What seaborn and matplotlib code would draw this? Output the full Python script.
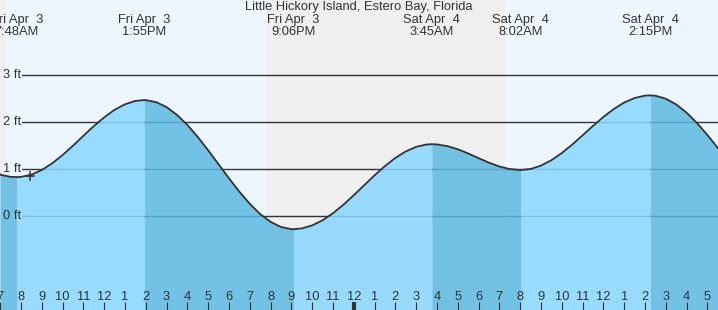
import numpy as np
import pandas as pd
import matplotlib
matplotlib.use("Agg")
import matplotlib.pyplot as plt
import matplotlib.transforms as mtransforms
import seaborn as sns

# ---- data (hours since Fri Apr 3 00:00, water level in ft) ----
hours = [6.99, 7.0, 7.5, 7.8, 8, 8.5, 9, 9.5, 10, 10.5, 11, 11.5, 12, 12.5, 13, 13.5, 13.92,
         14, 14.5, 15, 15.5, 16, 16.5, 17, 17.5, 18, 18.5, 19, 19.5, 20, 20.5, 21, 21.1,
         21.5, 22, 22.5, 23, 23.5, 24, 24.5, 25, 25.5, 26, 26.5, 27, 27.5, 27.75,
         28, 28.5, 29, 29.5, 30, 30.5, 31, 31.5, 32, 32.03,
         32.5, 33, 33.5, 34, 34.5, 35, 35.5, 36, 36.5, 37, 37.5, 38, 38.25,
         38.5, 39, 39.5, 40, 40.5, 41, 41.51]
heights = [0.89, 0.88, 0.835, 0.83, 0.834, 0.882, 0.981, 1.123, 1.299, 1.499, 1.709, 1.915,
           2.102, 2.262, 2.380, 2.451, 2.47,
           2.469, 2.426, 2.319, 2.154, 1.939, 1.684, 1.399, 1.101, 0.803, 0.518, 0.261, 0.041,
           -0.123, -0.233, -0.279, -0.28,
           -0.264, -0.199, -0.089, 0.061, 0.241, 0.444, 0.657, 0.868, 1.065, 1.238, 1.376,
           1.474, 1.524, 1.53,
           1.525, 1.489, 1.422, 1.333, 1.233, 1.136, 1.055, 1.001, 0.98, 0.98,
           1.002, 1.074, 1.189, 1.342, 1.522, 1.719, 1.919, 2.110, 2.279, 2.417, 2.513, 2.564,
           2.57,
           2.562, 2.499, 2.377, 2.201, 1.981, 1.726, 1.445]

event_hours = [7.8, 13.92, 21.1, 27.75, 32.03, 38.25]
event_days = ["Fri Apr  3", "Fri Apr  3", "Fri Apr  3", "Sat Apr  4", "Sat Apr  4", "Sat Apr  4"]
event_times = ["7:48AM", "1:55PM", "9:06PM", "3:45AM", "8:02AM", "2:15PM"]

# falling-tide intervals (darker fill) and rising-tide intervals (lighter fill)
falling = [(6.99, 7.8), (13.92, 21.1), (27.75, 32.03), (38.25, 41.51)]
rising = [(7.8, 13.92), (21.1, 27.75), (32.03, 38.25)]

night_spans = [(6.99, 7.28), (19.78, 31.27)]

level_ticks = [0, 1, 2, 3]
hour_ticks = list(range(7, 42))
hour_labels = [str((h - 1) % 12 + 1) for h in hour_ticks]

title = "Little Hickory Island, Estero Bay, Florida"
now_hour, now_level = [8.43], [0.86]

# ---- style ----
sns.set_style("white")
plt.rcParams["font.family"] = ["Liberation Sans", "DejaVu Sans"]
txt = "#333333"
fs = 9.3

df = pd.DataFrame({"hour": hours, "ft": heights})

fig = plt.figure(figsize=(7.18, 3.10), dpi=100)
ax = fig.add_axes([0, 0, 1, 1])
ax.set_facecolor("#eef7ff")
ax.set_xlim(6.99, 41.51)
ax.set_ylim(-2.0, 4.6)
ax.set_axisbelow(False)

for a, b in night_spans:
    ax.axvspan(a, b, color="#efefef", zorder=0, lw=0)

ytr = mtransforms.blended_transform_factory(ax.transAxes, ax.transData)
for lv in level_ticks:
    ax.axhline(lv, xmin=22 / 718, xmax=1, color=txt, lw=1.0, zorder=1)
    ax.text(3 / 718, lv, f"{lv} ft", transform=ytr, ha="left", va="center",
            fontsize=fs, color=txt, zorder=5)

t = np.array(hours)
v = np.array(heights)
for a, b in rising:
    m = (t >= a) & (t <= b)
    ax.fill_between(t[m], v[m], -2.0, color="#88d7ff", alpha=0.85, lw=0, zorder=2)
for a, b in falling:
    m = (t >= a) & (t <= b)
    ax.fill_between(t[m], v[m], -2.0, color="#5cb9e2", alpha=0.85, lw=0, zorder=2)

sns.lineplot(data=df, x="hour", y="ft", ax=ax, color=txt, lw=1.3, zorder=3, sort=True)
ax.plot(now_hour, now_level, marker="+", ms=7, mew=1.1, color=txt, zorder=4, ls="none")

# top labels
ax.text(0.5, 1 - 7 / 310, title, transform=ax.transAxes, ha="center", va="center",
        fontsize=fs, color=txt)
tr = mtransforms.blended_transform_factory(ax.transData, ax.transAxes)
for h, d, tm in zip(event_hours, event_days, event_times):
    ax.text(h, 1 - 19.5 / 310, d, transform=tr, ha="center", va="center", fontsize=fs, color=txt)
    ax.text(h, 1 - 32 / 310, tm, transform=tr, ha="center", va="center", fontsize=fs, color=txt)

ax.set_xticks(hour_ticks)
ax.set_xticklabels(hour_labels)
ax.set_yticks([])
ax.tick_params(axis="x", direction="in", length=6, width=0.8, color=txt, pad=-14,
               labelsize=fs, labelcolor=txt, bottom=True)
for tk, h in zip(ax.xaxis.get_major_ticks(), hour_ticks):
    if h == 24:
        tk.tick1line.set_markeredgewidth(3)
ax.set_xlabel("")
ax.set_ylabel("")
for s in ax.spines.values():
    s.set_visible(False)

fig.savefig("out.png", dpi=100)
